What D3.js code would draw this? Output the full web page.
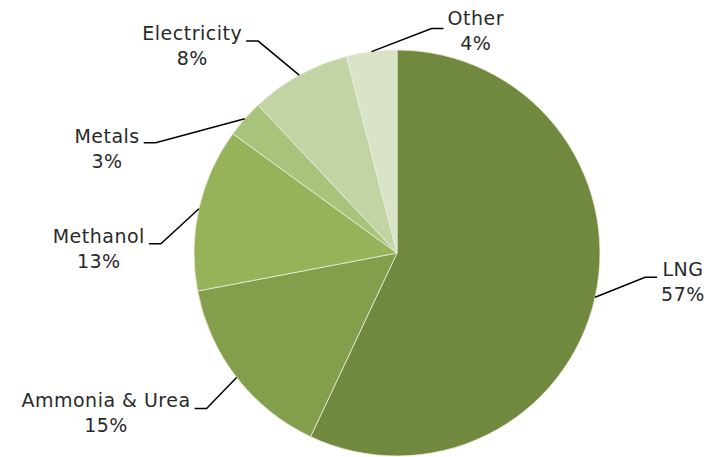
<!DOCTYPE html>
<html>
<head>
<meta charset="utf-8">
<script src="https://cdn.jsdelivr.net/npm/d3@7"></script>
<style>
	body { margin: 0; background: #fff; }
	svg text { font-family: "Century Gothic", "DejaVu Sans", sans-serif; font-size: 19px; letter-spacing: 0.5px; fill: #2a2a2a; }
	.leader { fill: none; stroke: #000; stroke-width: 1.5; }
	.slice { stroke: #e8eedc; stroke-width: 0.8; }
</style>
</head>
<body>
<div class="chart"></div>
<script>
// data
const categories = ["LNG", "Ammonia & Urea", "Methanol", "Metals", "Electricity", "Other"];
const shares = [57, 15, 13, 3, 8, 4];
const colors = ["#71893f", "#839f4c", "#97b35a", "#a8c47b", "#c2d3a4", "#d8e3c7"];

// label layout: elbow offset from the slice edge, side of the text, baseline shift
const labelLayout = [
	{ dx: 50, dy: -20, side: "right", base: -1 },
	{ dx: -30, dy: 31, side: "left", base: -1 },
	{ dx: -38, dy: 35, side: "left", base: -1 },
	{ dx: -89, dy: 24, side: "left", base: 0 },
	{ dx: -41, dy: -34, side: "left", base: -1 },
	{ dx: 60, dy: -23, side: "right", base: -4 }
];

const width = 710;
const height = 457;
const cx = 397;
const cy = 253;
const radius = 203;

const svg = d3.select(".chart")
	.append("svg")
	.attr("width", width)
	.attr("height", height);

const data = categories.map((name, i) => ({ name, value: shares[i], color: colors[i], layout: labelLayout[i] }));

const pie = d3.pie().sort(null).value((d) => d.value);
const arc = d3.arc().innerRadius(0).outerRadius(radius);

const chart = svg.append("g")
	.attr("transform", `translate(${cx}, ${cy})`);

const arcs = pie(data);

chart.selectAll(".slice")
	.data(arcs).enter()
	.append("path")
	.attr("class", "slice")
	.attr("d", arc)
	.style("fill", (d) => d.data.color);

// labels with leader lines
arcs.forEach((d) => {
	const mid = (d.startAngle + d.endAngle) / 2;
	const ex = radius * Math.sin(mid);
	const ey = -radius * Math.cos(mid);
	const L = d.data.layout;
	const bx = ex + L.dx;
	const by = ey + L.dy;
	const dir = L.side === "right" ? 1 : -1;
	const hx = bx + dir * 12;

	chart.append("path")
		.attr("class", "leader")
		.attr("d", `M${ex},${ey}L${bx},${by}L${hx},${by}`);

	const g = chart.append("g");
	const t1 = g.append("text").text(d.data.name).attr("text-anchor", "middle");
	const t2 = g.append("text").text(d.data.value + "%").attr("text-anchor", "middle");
	const w = Math.max(t1.node().getComputedTextLength(), t2.node().getComputedTextLength());
	const tx = hx + dir * (4 + w / 2);
	t1.attr("x", tx).attr("y", by + L.base);
	t2.attr("x", tx).attr("y", by + L.base + 25);
});
</script>
</body>
</html>
